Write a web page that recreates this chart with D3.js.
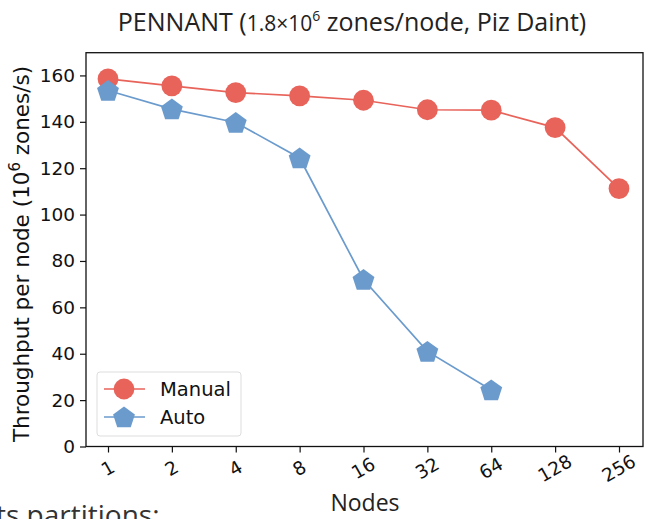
<!DOCTYPE html>
<meta charset="utf-8">
<style>
  body { margin: 0; background: #fff; }
</style>
<script src="https://d3js.org/d3.v7.min.js"></script>
<div id="my_dataviz"></div>
<script>
  // data
  var nodes = ["1", "2", "4", "8", "16", "32", "64", "128", "256"];
  var manual = [158.5, 155.5, 152.6, 151.2, 149.3, 145.2, 145.0, 137.5, 111.2];
  var auto = [153.5, 145.5, 139.7, 124.4, 72.0, 41.0, 24.4];
  var yTicks = [0, 20, 40, 60, 80, 100, 120, 140, 160];

  var width = 646, height = 519;
  var axLeft = 86, axRight = 643, axTop = 52.7, axBottom = 446.5;

  var svg = d3.select("#my_dataviz")
    .append("svg")
    .attr("width", width)
    .attr("height", height);

  var x = d3.scalePoint()
    .domain(nodes)
    .range([108, 619]);

  var y = d3.scaleLinear()
    .domain([0, 169.8])
    .range([axBottom, axTop]);

  var red = "#e8635a", blue = "#6b9bcd";

  // title
  var title = svg.append("text")
    .attr("x", 352).attr("y", 31)
    .attr("text-anchor", "middle")
    .style("font-family", "'Open Sans', 'Noto Sans', sans-serif")
    .style("font-size", "25px")
    .style("fill", "#222");
  title.append("tspan").text("PENNANT (");
  title.append("tspan").text("1.8\u00d710").style("font-size", "21px");
  title.append("tspan").text("6").attr("dy", -10).style("font-size", "14px");
  title.append("tspan").text(" zones/node, Piz Daint)").attr("dy", 10);

  // frame
  svg.append("rect")
    .attr("x", axLeft).attr("y", axTop)
    .attr("width", axRight - axLeft).attr("height", axBottom - axTop)
    .attr("fill", "none").attr("stroke", "#111").attr("stroke-width", 1.3);

  // axes
  var xAxis = svg.append("g")
    .attr("transform", "translate(0," + axBottom + ")")
    .call(d3.axisBottom(x).tickSizeOuter(0).tickSize(6).tickPadding(4));
  xAxis.select(".domain").remove();
  xAxis.selectAll("text")
    .style("font-family", "'DejaVu Sans', sans-serif")
    .style("font-size", "18.5px")
    .style("fill", "#111")
    .attr("text-anchor", "middle")
    .attr("y", 0)
    .attr("dy", 0)
    .attr("transform", "translate(0,23) rotate(-30)")
    .attr("dominant-baseline", "middle");
  xAxis.selectAll("line").attr("stroke", "#111").attr("stroke-width", 1.2);

  var yAxis = svg.append("g")
    .attr("transform", "translate(" + axLeft + ",0)")
    .call(d3.axisLeft(y).tickValues(yTicks).tickSize(6).tickPadding(5));
  yAxis.select(".domain").remove();
  yAxis.selectAll("text")
    .style("font-family", "'DejaVu Sans', sans-serif")
    .style("font-size", "18.5px")
    .style("fill", "#111");
  yAxis.selectAll("line").attr("stroke", "#111").attr("stroke-width", 1.2);

  // axis labels
  var ylab = svg.append("text")
    .attr("transform", "translate(29,254) rotate(-90)")
    .attr("text-anchor", "middle")
    .style("font-family", "'DejaVu Sans', sans-serif")
    .style("font-size", "21.5px")
    .style("fill", "#111");
  ylab.append("tspan").text("Throughput per node (10");
  ylab.append("tspan").text("6").attr("dy", -9).style("font-size", "15px");
  ylab.append("tspan").text(" zones/s)").attr("dy", 9);

  svg.append("text")
    .attr("x", 365).attr("y", 511)
    .attr("text-anchor", "middle")
    .style("font-family", "'Open Sans', 'Noto Sans', sans-serif")
    .style("font-size", "23px")
    .style("fill", "#222")
    .text("Nodes");

  // cut-off page text under the figure
  svg.append("text")
    .attr("x", -4).attr("y", 525)
    .style("font-family", "'Open Sans', 'Noto Sans', sans-serif")
    .style("font-size", "28px")
    .style("fill", "#333")
    .text("ts partitions:");

  // lines
  var line = d3.line()
    .x(function (d, i) { return x(nodes[i]); })
    .y(function (d) { return y(d); });

  svg.append("path").datum(manual)
    .attr("d", line).attr("fill", "none")
    .attr("stroke", red).attr("stroke-width", 1.7);
  svg.append("path").datum(auto)
    .attr("d", line).attr("fill", "none")
    .attr("stroke", blue).attr("stroke-width", 1.7);

  var circleSym = d3.symbol().type(d3.symbolCircle).size(340);
  var pentagon = function (r) {
    var pts = [];
    for (var k = 0; k < 5; k++) {
      var a = -Math.PI / 2 + k * 2 * Math.PI / 5;
      pts.push([r * Math.cos(a), r * Math.sin(a)]);
    }
    return "M" + pts.join("L") + "Z";
  };

  svg.selectAll("allManual")
    .data(manual).enter()
    .append("path")
    .attr("d", circleSym)
    .attr("transform", function (d, i) { return "translate(" + x(nodes[i]) + "," + y(d) + ")"; })
    .attr("fill", red);

  svg.selectAll("allAuto")
    .data(auto).enter()
    .append("path")
    .attr("d", pentagon(11.5))
    .attr("transform", function (d, i) { return "translate(" + x(nodes[i]) + "," + (y(d) + 1) + ")"; })
    .attr("fill", blue);

  // legend
  var lg = svg.append("g");
  lg.append("rect")
    .attr("x", 97).attr("y", 372)
    .attr("width", 144).attr("height", 64)
    .attr("rx", 3)
    .attr("fill", "#fff").attr("fill-opacity", 0.8)
    .attr("stroke", "#ddd").attr("stroke-width", 1);

  var legendItems = [
    { name: "Manual", color: red, sym: "circle", y: 389 },
    { name: "Auto", color: blue, sym: "pent", y: 417 }
  ];
  legendItems.forEach(function (it) {
    lg.append("line")
      .attr("x1", 104).attr("x2", 145)
      .attr("y1", it.y).attr("y2", it.y)
      .attr("stroke", it.color).attr("stroke-width", 1.7);
    lg.append("path")
      .attr("d", it.sym === "circle" ? circleSym() : pentagon(11.5))
      .attr("transform", "translate(124," + (it.sym === "circle" ? it.y : it.y + 1) + ")")
      .attr("fill", it.color);
    lg.append("text")
      .attr("x", 160).attr("y", it.y + 7)
      .style("font-family", "'DejaVu Sans', sans-serif")
      .style("font-size", "19.5px")
      .style("fill", "#111")
      .text(it.name);
  });
</script>
